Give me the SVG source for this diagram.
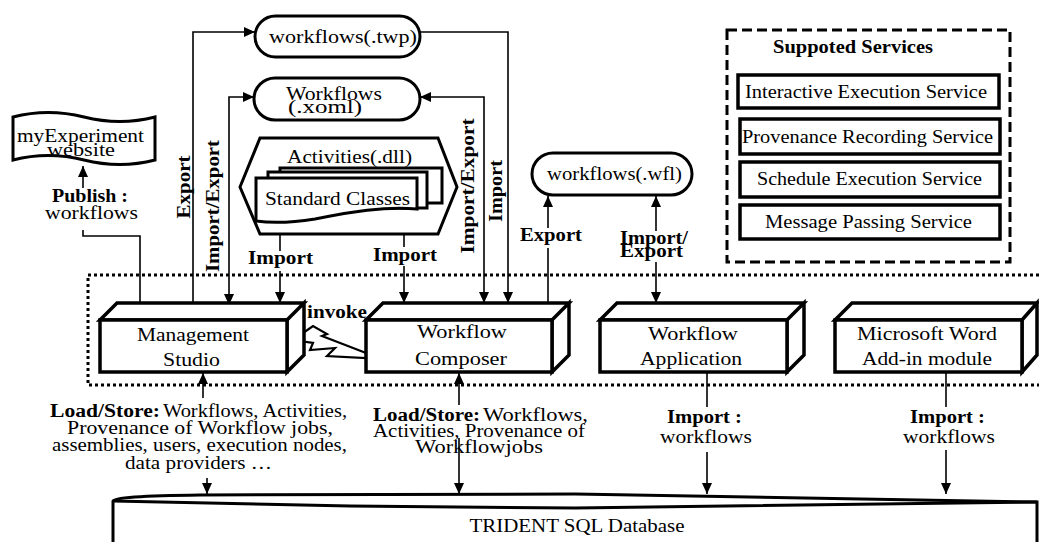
<svg xmlns="http://www.w3.org/2000/svg" width="1039" height="542" viewBox="0 0 1039 542" font-family="'Liberation Serif', 'DejaVu Serif', serif">
<defs>
  <marker id="ah" markerWidth="11" markerHeight="10" refX="11" refY="5" orient="auto-start-reverse" markerUnits="userSpaceOnUse">
    <path d="M0,0 L11,5 L0,10 Z" fill="#000"/>
  </marker>
</defs>
<style>
  .box{fill:#fff;stroke:#000;stroke-width:3.5;stroke-linejoin:miter}
  .cap{fill:#fff;stroke:#000;stroke-width:3}
  .ln{fill:none;stroke:#000;stroke-width:1.6}
  .arr{fill:none;stroke:#000;stroke-width:1.6;marker-end:url(#ah)}
  .arr2{fill:none;stroke:#000;stroke-width:1.6;marker-start:url(#ah);marker-end:url(#ah)}
  text{font-family:'Liberation Serif','DejaVu Serif',serif;font-size:19px;fill:#000}
  .b{font-weight:bold;font-size:18px}
  .m{text-anchor:middle}
</style>
<rect width="1039" height="542" fill="#fff"/>

<!-- runtime boundary (dotted) -->
<path d="M1039,275 L88,275 L88,385 L1039,385" fill="none" stroke="#000" stroke-width="3" stroke-dasharray="3 3"/>

<!-- connectors -->
<g id="connectors">
  <path class="arr" d="M193,303 L193,32 L255,32"/>
  <path class="arr" d="M420,32 L508,32 L508,303"/>
  <path class="arr2" d="M229,305 L229,97 L254,97"/>
  <path class="arr2" d="M420,97 L484,97 L484,303"/>
  <path class="ln" d="M280,234 L280,251"/>
  <path class="arr" d="M280,271 L280,303"/>
  <path class="ln" d="M404,234 L404,247"/>
  <path class="arr" d="M404,266 L404,303"/>
  <path class="arr" d="M83,188 L83,166"/>
  <path class="ln" d="M83,230 L83,236 L140,236 L140,303"/>
  <path class="ln" d="M548,303 L548,248"/>
  <path class="arr" d="M548,228 L548,196"/>
  <path class="arr" d="M656,262 L656,303"/>
  <path class="arr" d="M656,231 L656,196"/>
  <path class="arr" d="M203,398 L203,373"/>
  <path class="arr" d="M207,478 L207,494"/>
  <path class="arr" d="M459,405 L459,373"/>
  <path class="arr" d="M459,438 L459,494"/>
  <path class="ln" d="M707,373 L707,407"/>
  <path class="arr" d="M707,452 L707,494"/>
  <path class="ln" d="M946,373 L946,407"/>
  <path class="arr" d="M946,450 L946,494"/>
</g>

<!-- edge labels -->
<g id="labels">
  <text class="b m" transform="translate(190,187) rotate(-90)" textLength="63" lengthAdjust="spacingAndGlyphs">Export</text>
  <text class="b m" transform="translate(219,206) rotate(-90)" textLength="132" lengthAdjust="spacingAndGlyphs">Import/Export</text>
  <text class="b m" transform="translate(474,186) rotate(-90)" textLength="135" lengthAdjust="spacingAndGlyphs">Import/Export</text>
  <text class="b m" transform="translate(502,191) rotate(-90)" textLength="62" lengthAdjust="spacingAndGlyphs">Import</text>
  <text class="b m" x="280.5" y="264" textLength="65" lengthAdjust="spacingAndGlyphs">Import</text>
  <text class="b m" x="405" y="261" textLength="64" lengthAdjust="spacingAndGlyphs">Import</text>
  <text class="b m" x="90" y="202" textLength="76" lengthAdjust="spacingAndGlyphs">Publish :</text>
  <text class="m" x="91.5" y="219" textLength="93" lengthAdjust="spacingAndGlyphs">workflows</text>
  <text class="b m" x="551" y="241" textLength="62" lengthAdjust="spacingAndGlyphs">Export</text>
  <text class="b m" x="654" y="244" textLength="68" lengthAdjust="spacingAndGlyphs">Import/</text>
  <text class="b m" x="651.5" y="257" textLength="63" lengthAdjust="spacingAndGlyphs">Export</text>
  <text class="b m" x="337" y="318" textLength="60" lengthAdjust="spacingAndGlyphs">invoke</text>

  <text class="b" x="50" y="417" textLength="110" lengthAdjust="spacingAndGlyphs">Load/Store:</text>
  <text x="163" y="417" textLength="184" lengthAdjust="spacingAndGlyphs">Workflows, Activities,</text>
  <text class="m" x="200" y="434" textLength="266" lengthAdjust="spacingAndGlyphs">Provenance of Workflow jobs,</text>
  <text class="m" x="199.5" y="451" textLength="295" lengthAdjust="spacingAndGlyphs">assemblies, users, execution nodes,</text>
  <text class="m" x="198.5" y="469" textLength="147" lengthAdjust="spacingAndGlyphs">data providers …</text>

  <text class="b" x="373" y="421" textLength="107" lengthAdjust="spacingAndGlyphs">Load/Store:</text>
  <text x="483" y="421" textLength="105" lengthAdjust="spacingAndGlyphs">Workflows,</text>
  <text x="373" y="437" textLength="212" lengthAdjust="spacingAndGlyphs">Activities, Provenance of</text>
  <text x="415" y="453" textLength="128" lengthAdjust="spacingAndGlyphs">Workflowjobs</text>

  <text class="b m" x="704.5" y="423" textLength="75" lengthAdjust="spacingAndGlyphs">Import :</text>
  <text class="m" x="706" y="443" textLength="92" lengthAdjust="spacingAndGlyphs">workflows</text>
  <text class="b m" x="947.5" y="423" textLength="75" lengthAdjust="spacingAndGlyphs">Import :</text>
  <text class="m" x="949" y="443" textLength="92" lengthAdjust="spacingAndGlyphs">workflows</text>
</g>

<!-- workflow files -->
<g id="twp">
  <rect class="cap" x="255" y="16" width="165" height="41" rx="20.5"/>
  <text class="m" x="343" y="43" textLength="148" lengthAdjust="spacingAndGlyphs">workflows(.twp)</text>
</g>
<g id="xoml">
  <rect class="cap" x="254" y="78" width="166" height="42" rx="21"/>
  <text class="m" x="334" y="100" textLength="96" lengthAdjust="spacingAndGlyphs">Workflows</text>
  <text class="m" x="325" y="113" textLength="74" lengthAdjust="spacingAndGlyphs">(.xoml)</text>
</g>
<g id="wfl">
  <rect class="cap" x="532" y="153" width="160" height="42" rx="21"/>
  <text class="m" x="614.5" y="180" textLength="135" lengthAdjust="spacingAndGlyphs">workflows(.wfl)</text>
</g>

<!-- activity library -->
<g id="activities">
  <polygon class="cap" points="240,187 260,138 438,138 457,187 438,234 260,234"/>
  <text class="m" x="349.5" y="163" textLength="125" lengthAdjust="spacingAndGlyphs">Activities(.dll)</text>
  <rect class="cap" x="280" y="168" width="162" height="35"/>
  <rect class="cap" x="268" y="172" width="159" height="36"/>
  <path class="cap" d="M256,178 L417,178 L417,209 C385,206 350,212 315,219 C290,223 270,223 256,221 Z"/>
  <text class="m" x="337.5" y="205" textLength="145" lengthAdjust="spacingAndGlyphs">Standard Classes</text>
</g>

<!-- publishing site -->
<g id="myexperiment">
  <path class="cap" d="M13,117 Q48,108 84,117 T155,117 L155,160 Q120,169 84,160 T13,160 Z"/>
  <text class="m" x="80.5" y="142" textLength="127" lengthAdjust="spacingAndGlyphs">myExperiment</text>
  <text class="m" x="81" y="156" textLength="68" lengthAdjust="spacingAndGlyphs">website</text>
</g>

<!-- invoke bolt between composer and studio -->
<g id="invoke">
  <polygon points="293,340 313,326 327,334 322,336 366,353 366,358 327,356 335,348 310,350 313,343" fill="#fff" stroke="#000" stroke-width="2.2" stroke-linejoin="miter"/>
</g>

<!-- client tools (3D blocks) -->
<g id="studio">
  <path class="box" d="M100,320 L117,303 L304,303 L287,320 Z M287,320 L304,303 L304,355 L287,372 Z"/>
  <rect class="box" x="100" y="320" width="187" height="52"/>
  <text class="m" x="193" y="341" textLength="112" lengthAdjust="spacingAndGlyphs">Management</text>
  <text class="m" x="191.5" y="366" textLength="57" lengthAdjust="spacingAndGlyphs">Studio</text>
</g>
<g id="composer">
  <path class="box" d="M366,320 L383,303 L569,303 L552,320 Z M552,320 L569,303 L569,355 L552,372 Z"/>
  <rect class="box" x="366" y="320" width="186" height="52"/>
  <text class="m" x="462" y="338" textLength="90" lengthAdjust="spacingAndGlyphs">Workflow</text>
  <text class="m" x="461" y="365" textLength="92" lengthAdjust="spacingAndGlyphs">Composer</text>
</g>
<g id="application">
  <path class="box" d="M600,320 L617,303 L804,303 L787,320 Z M787,320 L804,303 L804,355 L787,372 Z"/>
  <rect class="box" x="600" y="320" width="187" height="52"/>
  <text class="m" x="693" y="340" textLength="90" lengthAdjust="spacingAndGlyphs">Workflow</text>
  <text class="m" x="691" y="365" textLength="102" lengthAdjust="spacingAndGlyphs">Application</text>
</g>
<g id="wordaddin">
  <path class="box" d="M835,320 L852,303 L1037,303 L1022,320 Z M1022,320 L1037,303 L1037,355 L1022,372 Z"/>
  <rect class="box" x="835" y="320" width="187" height="52"/>
  <text class="m" x="927" y="340" textLength="140" lengthAdjust="spacingAndGlyphs">Microsoft Word</text>
  <text class="m" x="927" y="365" textLength="130" lengthAdjust="spacingAndGlyphs">Add-in module</text>
</g>

<!-- supported services -->
<g id="services">
  <rect x="727" y="30" width="283" height="232" fill="none" stroke="#000" stroke-width="3" stroke-dasharray="10 5"/>
  <text class="b m" x="853" y="53" textLength="160" lengthAdjust="spacingAndGlyphs">Suppoted Services</text>
  <g id="svc-interactive">
    <rect class="box" x="738" y="75" width="261" height="33"/>
    <text class="m" x="866" y="98" textLength="242" lengthAdjust="spacingAndGlyphs">Interactive Execution Service</text>
  </g>
  <g id="svc-provenance">
    <rect class="box" x="740" y="119" width="260" height="35"/>
    <text class="m" x="867.5" y="143" textLength="251" lengthAdjust="spacingAndGlyphs">Provenance Recording Service</text>
  </g>
  <g id="svc-schedule">
    <rect class="box" x="740" y="162" width="260" height="35"/>
    <text class="m" x="869.5" y="185" textLength="225" lengthAdjust="spacingAndGlyphs">Schedule Execution Service</text>
  </g>
  <g id="svc-message">
    <rect class="box" x="740" y="205" width="260" height="34"/>
    <text class="m" x="868.5" y="228" textLength="207" lengthAdjust="spacingAndGlyphs">Message Passing Service</text>
  </g>
</g>

<!-- database -->
<g id="database">
  <path d="M113,545 L113,501 Q113,496 200,495 L575,494 L1037,502 L1037,545" fill="#fff" stroke="#000" stroke-width="3"/>
  <path d="M113,501 Q200,503 350,506 L575,508 L1037,502" fill="none" stroke="#000" stroke-width="3"/>
  <text class="m" x="577" y="532" textLength="215" lengthAdjust="spacingAndGlyphs">TRIDENT SQL Database</text>
</g>
</svg>
